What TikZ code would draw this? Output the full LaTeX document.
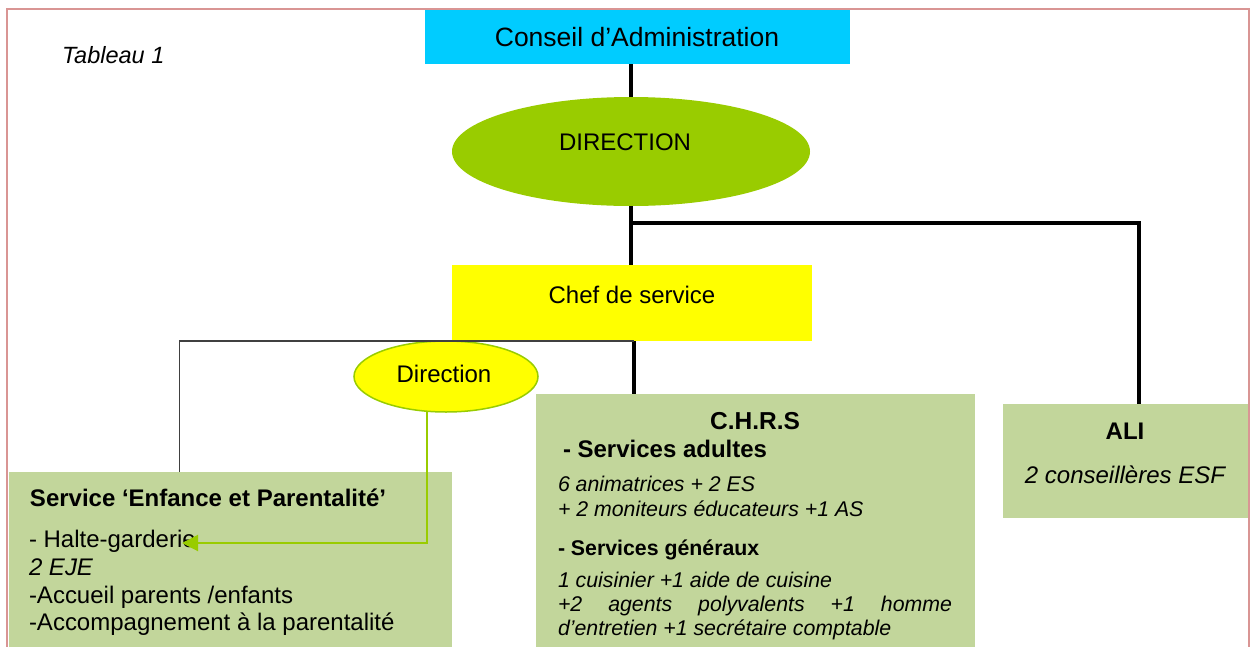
\documentclass[tikz,border=0pt]{standalone}
\usepackage{fontspec}
\setmainfont{Liberation Sans}
\usetikzlibrary{shapes.geometric,arrows.meta}
\definecolor{cyanbox}{HTML}{00CCFF}
\definecolor{leafgreen}{HTML}{99CC00}
\definecolor{sunyellow}{HTML}{FFFF00}
\definecolor{sagebox}{HTML}{C2D69B}
\definecolor{framepink}{HTML}{D99594}
\newcommand\fs[1]{\fontsize{#1}{#1}\selectfont}
\begin{document}
\begin{tikzpicture}[x=1pt,y=-1pt,
  block/.style={rectangle,inner sep=0pt,outer sep=0pt,anchor=north west},
  oval/.style={ellipse,inner sep=0pt,outer sep=0pt},
  txt/.style={inner sep=0pt,outer sep=0pt,anchor=base west},
  ctxt/.style={inner sep=0pt,outer sep=0pt,anchor=base},
  link/.style={line width=3.5pt,black},
  thinlink/.style={line width=1.3pt,black!75},
  greenlink/.style={line width=2pt,leafgreen,arrows={-Triangle[length=16pt,width=16pt]}}]
\useasboundingbox (0,0) rectangle (1254,646);

% shapes
\node[block,fill=cyanbox,minimum width=425pt,minimum height=55pt] (ca) at (425,9) {};
\node[oval,fill=leafgreen,minimum width=358pt,minimum height=109pt] (dir) at (631,151.5) {};
\node[block,fill=sunyellow,minimum width=360pt,minimum height=76pt] (chef) at (452,265) {};
\node[block,fill=sagebox,minimum width=443pt,minimum height=190pt] (enf) at (9,472) {};
\node[block,fill=sagebox,minimum width=439pt,minimum height=260pt] (chrs) at (536,394) {};
\node[block,fill=sagebox,minimum width=246pt,minimum height=114pt] (ali) at (1003,404) {};
\node[oval,fill=sunyellow,draw=leafgreen,line width=1.5pt,minimum width=184pt,minimum height=71pt] (dir2) at (446,376.5) {};

% connectors
\coordinate (fork) at (632,223);
\coordinate (tip) at (182,543);
\draw[link] (dir.north) -- (dir.north |- ca.south);
\draw[link] (dir.south) -- (dir.south |- chef.north);
\draw[link] (fork) -| ([xshift=13pt]ali.north);
\draw[link] ([xshift=2pt]chef.south) -- ([xshift=2pt]chef.south |- chrs.north);
\draw[thinlink] ([xshift=2pt]chef.south) -| ([xshift=-51pt]enf.north);

% texts
\node[txt,font=\fs{23.5}\itshape] (tab) at (62,63) {Tableau 1};
\node[ctxt,font=\fs{26.5}] (catxt) at (637,46) {Conseil d’Administration};
\node[ctxt,font=\fs{24}] (dirtxt) at (625,150) {DIRECTION};
\node[ctxt,font=\fs{24}] (cheftxt) at (632,303) {Chef de service};
\node[ctxt,font=\fs{24}] (dir2txt) at (444,382) {Direction};

\node[txt,font=\fs{24}\bfseries] (e0) at (30,506) {Service ‘Enfance et Parentalité’};
\node[txt,font=\fs{24}] (e1) at (29,547) {- Halte-garderie};
\node[txt,font=\fs{24}\itshape] (e2) at (29,575) {2 EJE};
\node[txt,font=\fs{24}] (e3) at (29,603) {-Accueil parents /enfants};
\node[txt,font=\fs{24}] (e4) at (29,630) {-Accompagnement à la parentalité};

\node[ctxt,font=\fs{24.5}\bfseries] (c0) at (755,429) {C.H.R.S};
\node[txt,font=\fs{24}\bfseries] (c1) at (563,457) {- Services adultes};
\node[txt,font=\fs{21.3}\itshape] (c2) at (558,491) {6 animatrices + 2 ES};
\node[txt,font=\fs{21.3}\itshape] (c3) at (558,516) {+ 2 moniteurs éducateurs +1 AS};
\node[txt,font=\fs{21.3}\bfseries] (c4) at (558,555) {- Services généraux};
\node[txt,font=\fs{21.3}\itshape] (c5) at (558,587) {1 cuisinier +1 aide de cuisine};
\node[txt,font=\fs{21.3}\itshape] (c6) at (558,611) {\makebox[394pt][s]{+2 agents polyvalents +1 homme}};
\node[txt,font=\fs{21.3}\itshape] (c7) at (558,635) {d’entretien +1 secrétaire comptable};

\node[ctxt,font=\fs{24}\bfseries] (a0) at (1125,439) {ALI};
\node[ctxt,font=\fs{24}\itshape] (a1) at (1125,483) {2 conseillères ESF};

% link from the small Direction oval, drawn over the text it points at
\draw[greenlink] ([xshift=-19pt]dir2.south) |- (tip);

% page frame
\draw[framepink,line width=2pt] (7,660) -- (7,9) -- (1249,9) -- (1249,660);
\end{tikzpicture}
\end{document}
